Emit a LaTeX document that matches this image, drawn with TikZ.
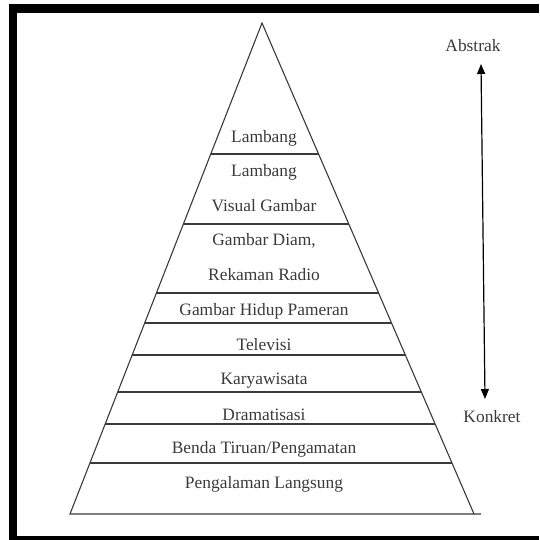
\documentclass[tikz,border=0pt]{standalone}
\usepackage{fontspec}
\setmainfont{Liberation Serif}
\usetikzlibrary{calc,arrows.meta}
\definecolor{ink}{HTML}{3A3A3A}
\begin{document}
\begin{tikzpicture}[x=1pt,y=-1pt,
  edge/.style={draw=ink,line width=1.1pt},
  lbl/.style={font=\fontsize{17.4}{20}\selectfont,text=ink,inner sep=0pt,anchor=base},
  framebar/.style={fill=black}]
\useasboundingbox (0,0) rectangle (539,540);
% frame
\fill[framebar] (9,4) rectangle (539,13);
\fill[framebar] (9,4) rectangle (17,540);
\fill[framebar] (9,536) rectangle (539,540);
% pyramid
\coordinate (A) at (262,23);
\coordinate (BL) at (70,514);
\coordinate (BR) at (474,514);
\coordinate (BE) at (481,514);
\draw[edge,line join=miter] (BR) -- (A) -- (BL) -- (BE);
\foreach \i/\y in {1/154,2/224,3/293,4/323,5/355,6/392,7/424,8/463} {
  \pgfmathsetmacro\t{(\y-23)/491}
  \coordinate (L\i) at ($(A)!\t!(BL)$);
  \coordinate (R\i) at ($(A)!\t!(BR)$);
  \draw[edge] (L\i) -- (R\i);
}
% labels
\node[lbl] (t1) at (264,142.5) {Lambang};
\node[lbl] (t2) at (264,176.5) {Lambang};
\node[lbl] (t3) at (264,211) {Visual Gambar};
\node[lbl] (t4) at (264,245.5) {Gambar Diam,};
\node[lbl] (t5) at (264,280) {Rekaman Radio};
\node[lbl] (t6) at (264,315) {Gambar Hidup Pameran};
\node[lbl] (t7) at (264,350.5) {Televisi};
\node[lbl] (t8) at (264,384.5) {Karyawisata};
\node[lbl] (t9) at (264,420) {Dramatisasi};
\node[lbl] (t10) at (264,453.5) {Benda Tiruan/Pengamatan};
\node[lbl] (t11) at (264,488.5) {Pengalaman Langsung};
% side scale
\node[lbl] (abs) at (473,51.5) {Abstrak};
\node[lbl] (kon) at (492,422) {Konkret};
\coordinate (aup) at (481,64);
\coordinate (adn) at (485,399);
\draw[draw=black,line width=1.2pt,{Triangle[width=8pt,length=10pt]}-{Triangle[width=8pt,length=10pt]}] (aup) -- (adn);
\end{tikzpicture}
\end{document}
